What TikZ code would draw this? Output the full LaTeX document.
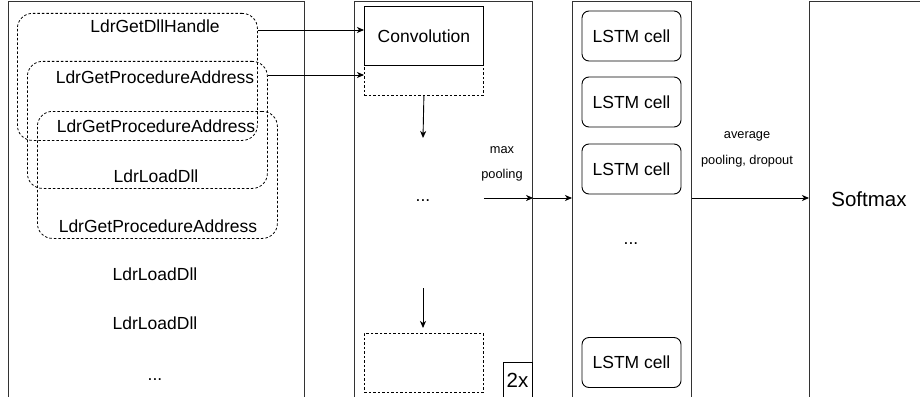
\documentclass[tikz,border=0pt]{standalone}
\usepackage{fontspec}
\setmainfont{Liberation Sans}
\usetikzlibrary{arrows.meta,calc}
\begin{document}
\begin{tikzpicture}[x=1pt,y=-1pt,
  big/.style={font=\fontsize{17.5}{20}\selectfont},
  small/.style={font=\fontsize{12.8}{15}\selectfont},
  huge/.style={font=\fontsize{20.5}{24}\selectfont},
  panel/.style={draw=black!80, line width=1.1pt, inner sep=0pt, anchor=north west, minimum height=420pt},
  dbox/.style={draw=black, line width=0.8pt, dash pattern=on 2.5pt off 2pt, rounded corners=15pt, inner sep=0pt, anchor=north west, minimum width=240pt, minimum height=127pt},
  cell/.style={draw=black, line width=0.9pt, rounded corners=7pt, inner sep=0pt, minimum width=99pt, minimum height=50pt, big},
  arr/.style={draw=black, line width=0.9pt, -{Stealth[length=7pt,width=6pt,inset=2pt]}},
  lbl/.style={big, inner sep=0pt}
]
\useasboundingbox (0,0) rectangle (920,396);
\clip (0,0) rectangle (920,396);
\fill[white] (0,0) rectangle (920,396);

% panels
\node[panel, minimum width=296pt] (left) at (8,1) {};
\node[panel, minimum width=178pt] (mid) at (354,1) {};
\node[panel, minimum width=119pt] (lstm) at (572,1) {};
\node[panel, minimum width=140pt] (soft) at (809,1) {};

% dashed groups
\node[dbox] (b1) at (17,13) {};
\node[dbox] (b2) at (27,61) {};
\node[dbox] (b3) at (37,111) {};

% left texts
\node[lbl] (t1) at (155,26) {LdrGetDllHandle};
\node[lbl] (t2) at (155,77) {LdrGetProcedureAddress};
\node[lbl] (t3) at (156,126) {LdrGetProcedureAddress};
\node[lbl] (t4) at (156,176) {LdrLoadDll};
\node[lbl] (t5) at (158,226) {LdrGetProcedureAddress};
\node[lbl] (t6) at (155,274) {LdrLoadDll};
\node[lbl] (t7) at (155,323) {LdrLoadDll};
\node[lbl] (t8) at (155,380) {...};

% middle column
\node[draw=black, line width=0.8pt, dash pattern=on 2.5pt off 2pt, inner sep=0pt, anchor=north west, minimum width=119pt, minimum height=30pt] (convd) at (364,65) {};
\node[draw=black, line width=0.9pt, inner sep=0pt, anchor=north west, minimum width=119pt, minimum height=59pt, fill=white, big] (conv) at (364,6) {Convolution};
\node[lbl] (mdots) at (423,201) {...};
\node[draw=black, line width=0.8pt, dash pattern=on 2.5pt off 2pt, inner sep=0pt, anchor=north west, minimum width=119pt, minimum height=59pt] (convb) at (364,333) {};
\node[draw=black, line width=0.9pt, inner sep=0pt, anchor=north west, minimum width=29pt, minimum height=40pt] (rep) at (503,362) {};
\node[huge, inner sep=0pt] (reptxt) at (517.5,380) {2x};
\coordinate (d1) at (423,138);
\coordinate (d2a) at (423,288);
\coordinate (d2b) at (423,328);

% LSTM cells
\node[cell] (c1) at (631.5,36) {LSTM cell};
\node[cell] (c2) at (631.5,102) {LSTM cell};
\node[cell] (c3) at (631.5,169) {LSTM cell};
\node[lbl] (ldots) at (631,244) {...};
\node[cell] (c4) at (631.5,362.5) {LSTM cell};

% softmax
\node[huge, inner sep=0pt] (smx) at (869,199) {Softmax};

% labels
\node[small, inner sep=0pt] (mp1) at (502,150) {max};
\node[small, inner sep=0pt] (mp2) at (502,175) {pooling};
\node[small, inner sep=0pt] (ap1) at (747,136) {average};
\node[small, inner sep=0pt] (ap2) at (747,161) {pooling, dropout};

% connectors
\coordinate (y1) at (0,30);
\coordinate (y2) at (0,75);
\coordinate (ym) at (0,198);
\draw[arr] (b1.east |- y1) -- (conv.west |- y1);
\draw[arr] (b2.east |- y2) -- (convd.west |- y2);
\draw[arr] (convd.south) -- (d1);
\draw[arr] (d2a) -- (d2b);
\draw[arr] (conv.east |- ym) -- (mid.east |- ym);
\draw[arr] (mid.east |- ym) -- (lstm.west |- ym);
\draw[arr] (lstm.east |- ym) -- (soft.west |- ym);
\end{tikzpicture}
\end{document}
